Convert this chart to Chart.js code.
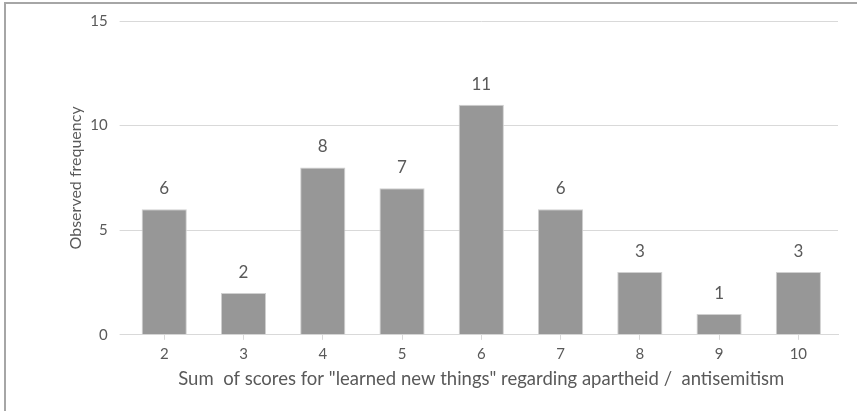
<!DOCTYPE html>
<html>
<head>
<meta charset="utf-8">
<script src="https://cdn.jsdelivr.net/npm/chart.js@4"></script>
<style>
  body { margin: 0; background: #fff; }
  #wrap { position: absolute; left: 0; top: 0; width: 857px; height: 411px; }
  #frame { position: absolute; left: 4px; top: 2px; width: 870px; height: 420px;
           border-left: 2px solid #a6a6a6; border-top: 2px solid #a6a6a6; }
</style>
</head>
<body>
<div id="wrap">
  <div id="frame"></div>
  <canvas id="freqChart" width="857" height="411"></canvas>
</div>
<script>
// scores on the x axis and how often each was observed
var scores = ['2', '3', '4', '5', '6', '7', '8', '9', '10'];
var frequency = [6, 2, 8, 7, 11, 6, 3, 1, 3];
var yTicks = [0, 5, 10, 15];

var textColor = '#595959';
var fontName = 'Lato, "Open Sans", sans-serif';

// numbers above the bars
var barValues = {
    id: 'barValues',
    afterDatasetsDraw: function(chart) {
        var ctx = chart.ctx;
        var meta = chart.getDatasetMeta(0);
        ctx.save();
        ctx.fillStyle = textColor;
        ctx.font = '17px ' + fontName;
        ctx.textAlign = 'center';
        ctx.textBaseline = 'bottom';
        meta.data.forEach(function(bar, i) {
            ctx.fillText(frequency[i], bar.x, bar.y - 12);
        });
        ctx.restore();
    }
};

var ctx = document.getElementById('freqChart').getContext('2d');
var freqChart = new Chart(ctx, {
    type: 'bar',
    data: {
        labels: scores,
        datasets: [{
            label: 'Observed frequency',
            data: frequency,
            backgroundColor: '#979797',
            borderColor: '#d0d0d0',
            borderWidth: 1,
            categoryPercentage: 0.57,
            barPercentage: 1
        }]
    },
    options: {
        responsive: false,
        animation: false,
        layout: { padding: { top: 10, right: 19, bottom: 17, left: 66 } },
        plugins: {
            legend: { display: false },
            tooltip: { enabled: false }
        },
        scales: {
            x: {
                grid: {
                    offset: false,
                    drawOnChartArea: false,
                    color: '#d9d9d9',
                    tickLength: 5
                },
                border: { color: '#d9d9d9' },
                ticks: { color: textColor, font: { family: fontName, size: 15 }, padding: 5 },
                title: {
                    display: true,
                    text: 'Sum  of scores for "learned new things" regarding apartheid /  antisemitism',
                    color: textColor,
                    font: { family: fontName, size: 18.5 },
                    padding: { top: 0 }
                }
            },
            y: {
                min: 0,
                max: 15,
                afterBuildTicks: function(axis) {
                    axis.ticks = yTicks.map(function(v) { return { value: v }; });
                },
                grid: { color: '#d9d9d9', tickLength: 5 },
                border: { display: false },
                ticks: { color: textColor, font: { family: fontName, size: 15 }, padding: 12 },
                title: {
                    display: true,
                    text: 'Observed frequency',
                    color: textColor,
                    font: { family: fontName, size: 16 },
                    padding: { top: 0, bottom: -7 }
                }
            }
        }
    },
    plugins: [barValues]
});
</script>
</body>
</html>
